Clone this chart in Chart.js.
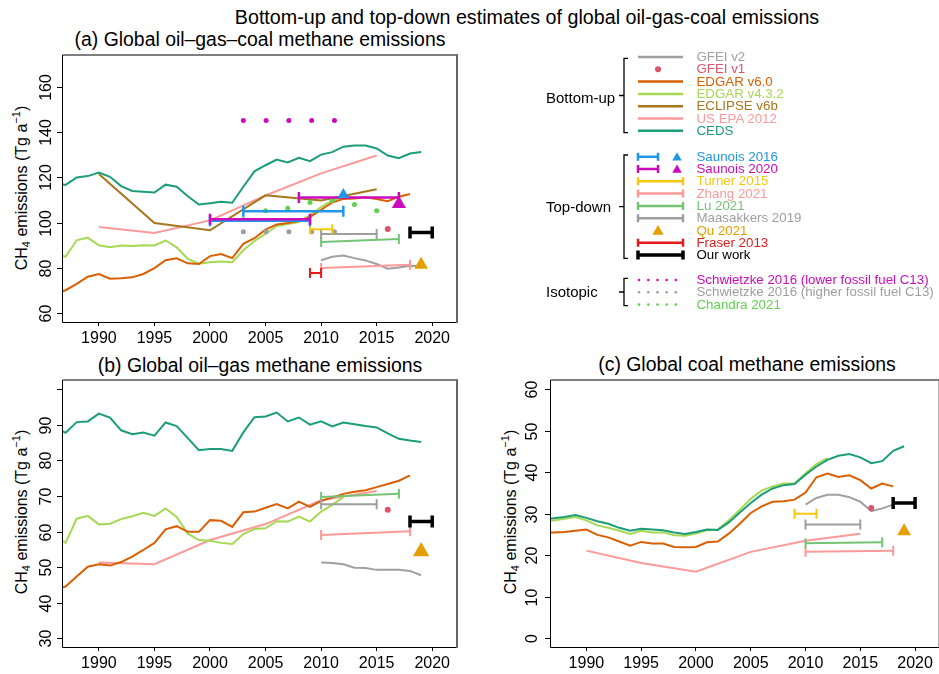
<!DOCTYPE html>
<html>
<head>
<meta charset="utf-8">
<script src="https://cdn.jsdelivr.net/npm/chart.js@4.4.0/dist/chart.umd.min.js"></script>
<style>
html, body { margin: 0; padding: 0; background: #fff; }
#fig { position: relative; width: 939px; height: 674px; overflow: hidden; background: #fff;
       font-family: "Liberation Sans", Arial, sans-serif; color: #000; }
.t { position: absolute; white-space: nowrap; transform: translate(-50%, -50%); line-height: 1; }
.main { font-size: 19.7px; }
.ptitle { font-size: 19.4px; }
.ylab { position: absolute; white-space: nowrap; font-size: 16px; line-height: 1;
        transform: translate(-50%, -50%) rotate(-90deg); }
.ylab sub { font-size: 11px; vertical-align: -3px; line-height: 0; }
.ylab sup { font-size: 11px; vertical-align: 7px; line-height: 0; }
canvas { position: absolute; }
.lg { position: absolute; white-space: nowrap; font-size: 13.3px; line-height: 1; transform: translateY(-50%); }
.grp { position: absolute; white-space: nowrap; font-size: 15px; line-height: 1; transform: translateY(-50%); }
</style>
</head>
<body>
<div id="fig">
  <div class="t main" style="left:527px; top:18px;">Bottom-up and top-down estimates of global oil-gas-coal emissions</div>
  <div class="t ptitle" style="left:260px; top:40px;">(a) Global oil–gas–coal methane emissions</div>
  <div class="t ptitle" style="left:260px; top:366px;">(b) Global oil–gas methane emissions</div>
  <div class="t ptitle" style="left:747px; top:365px;">(c) Global coal methane emissions</div>
  <div class="ylab" style="left:22px; top:188px;">CH<sub>4</sub> emissions (Tg a<sup>−1</sup>)</div>
  <div class="ylab" style="left:22px; top:512px;">CH<sub>4</sub> emissions (Tg a<sup>−1</sup>)</div>
  <div class="ylab" style="left:511px; top:512px;">CH<sub>4</sub> emissions (Tg a<sup>−1</sup>)</div>
  <canvas id="ca" width="470" height="305" style="left:0; top:45px; width:470px; height:305px;"></canvas>
  <canvas id="cb" width="470" height="305" style="left:0; top:370px; width:470px; height:305px;"></canvas>
  <canvas id="cc" width="480" height="305" style="left:470px; top:370px; width:480px; height:305px;"></canvas>
  <canvas id="legend" width="419" height="290" style="left:520px; top:40px; width:419px; height:290px;"></canvas>
</div>
<script>
// ---- x positions ----
const annualYears = [1986, 1987, 1988, 1989, 1990, 1991, 1992, 1993, 1994, 1995, 1996, 1997,
  1998, 1999, 2000, 2001, 2002, 2003, 2004, 2005, 2006, 2007, 2008, 2009, 2010, 2011, 2012,
  2013, 2014, 2015, 2016, 2017, 2018, 2019];
const fiveYears = [1990, 1995, 2000, 2005, 2010, 2015];
const gfeiYears = [2010, 2011, 2012, 2013, 2014, 2015, 2016, 2017, 2018, 2019];
const schwietzkeYears = [2003, 2005.05, 2007.1, 2009.15, 2011.2];
const chandraYears = [2003, 2005, 2007, 2009, 2011, 2013, 2015];
const xTicks = [1990, 1995, 2000, 2005, 2010, 2015, 2020];
const xLimits = [1986.68, 2022.32];

// ---- (a) oil-gas-coal ----
const aTicks = [60, 80, 100, 120, 140, 160];
const aLimits = [55.6, 174.4];
const aCeds = [117.6, 116.7, 120.0, 120.6, 122.2, 120.3, 116.2, 114.0, 113.7, 113.3, 116.8, 115.9,
  111.7, 108.0, 108.6, 109.2, 108.8, 115.9, 122.7, 125.4, 127.9, 126.6, 128.7, 127.2, 130.1, 131.2,
  133.6, 134.1, 134.1, 132.8, 129.7, 128.5, 130.6, 131.3];
const aEdgar432 = [86.5, 84.9, 92.2, 93.4, 90.0, 89.1, 89.9, 89.7, 90.0, 89.9, 92.1, 89.1, 84.0,
  81.8, 82.5, 82.8, 82.5, 87.8, 91.9, 95.0, 98.5, 99.4, 100.3, 103.2, 106.9, 109.8, 111.2];
const aEdgar6 = [68.2, 70.1, 72.9, 76.1, 77.3, 75.2, 75.4, 75.8, 77.3, 79.9, 83.4, 84.2, 82.0, 81.7,
  85.2, 86.1, 84.3, 90.6, 93.1, 96.9, 99.2, 99.8, 100.7, 102.5, 105.7, 108.9, 110.5, 110.7, 111.2,
  110.5, 109.5, 111.5, 112.7];
const aEclipse = [121.5, 99.8, 96.6, 112.1, 109.8, 114.8];
const aEpa = [98.1, 95.4, 101.0, 112.0, 121.8, 129.7];
const aGfei2 = [83.4, 84.9, 85.5, 84.3, 83.3, 81.7, 79.6, 80.2, 80.9, 80.8];
const aGfei1 = [2016, 97.2];
const aSchwLow = [145.2, 145.2, 145.2, 145.2, 145.2];
const aSchwHigh = [96.0, 96.0, 96.0, 96.0, 96.0];
const aChandra = [101.4, 105.3, 106.4, 108.9, 109.8, 108.0, 105.3];
// bars: [start year, end year, start value, end value]
const aSaunois2016 = [[2000, 2009, 100.8, 100.8], [2003, 2012, 105.1, 105.1]];
const aSaunois2020 = [[2000, 2009, 101.5, 101.5], [2008, 2017, 111.1, 111.1]];
const aSaunois2016Tri = [2012, 112.4];
const aSaunois2020Tri = [2017, 108.3];
const aTurner = [2009, 2011, 97.1, 97.1];
const aMaasakkers = [2010, 2015, 95.0, 95.0];
const aLu = [2010, 2017, 91.4, 92.8];
const aZhang = [2010, 2018, 79.9, 81.4];
const aFraser = [2009, 2010, 77.7, 77.7];
const aOurWork = [2018, 2020, 95.6, 95.6];
const aQu = [2019, 81.4];

// ---- (b) oil-gas ----
const bTicks = [30, 40, 50, 60, 70, 80, 90, 100];
const bLimits = [27.2, 102.8];
const bCeds = [89.5, 87.8, 90.8, 91.0, 93.2, 92.1, 88.5, 87.4, 87.9, 87.0, 90.7, 89.7, 86.3, 82.9,
  83.2, 83.2, 82.7, 87.9, 92.2, 92.4, 93.5, 91.0, 92.1, 90.1, 91.0, 89.6, 90.7, 90.2, 89.7, 89.3,
  87.6, 86.1, 85.6, 85.2];
const bEdgar432 = [58.5, 56.8, 63.6, 64.4, 62.0, 62.2, 63.5, 64.3, 65.3, 64.4, 66.5, 64.1, 59.4,
  57.6, 57.4, 56.8, 56.5, 59.3, 60.7, 60.9, 62.9, 62.8, 64.2, 62.8, 65.6, 67.5, 69.7];
const bEdgar6 = [43.6, 44.5, 47.3, 50.1, 50.8, 50.4, 51.4, 52.9, 54.8, 56.8, 60.6, 61.5, 59.9, 59.9,
  63.2, 63.0, 61.3, 65.4, 65.6, 66.7, 67.7, 66.5, 68.4, 66.9, 68.6, 69.6, 70.6, 71.2, 71.6, 72.5,
  73.4, 74.3, 75.8];
const bEpa = [51.3, 50.8, 57.6, 62.1, 68.8, 71.4];
const bGfei2 = [51.3, 51.1, 50.8, 49.8, 49.7, 49.2, 49.2, 49.2, 48.9, 47.7];
const bGfei1 = [2016, 66.1];
const bLu = [2010, 2017, 69.7, 70.6];
const bMaasakkers = [2010, 2015, 67.7, 67.7];
const bZhang = [2010, 2018, 59.0, 60.1];
const bOurWork = [2018, 2020, 62.8, 62.8];
const bQu = [2019, 54.4];

// ---- (c) coal ----
const cTicks = [0, 10, 20, 30, 40, 50, 60];
const cLimits = [-2.4, 62.4];
const cCeds = [28.7, 28.9, 29.2, 29.7, 29.0, 28.2, 27.6, 26.6, 25.9, 26.4, 26.2, 26.0, 25.5, 25.1,
  25.6, 26.2, 26.1, 27.9, 30.3, 32.6, 34.6, 36.1, 36.9, 37.2, 39.4, 41.4, 43.0, 44.0, 44.4, 43.6,
  42.2, 42.7, 45.2, 46.3];
const cEdgar432 = [28.3, 28.4, 28.8, 29.2, 28.4, 27.2, 26.6, 25.9, 25.1, 25.9, 25.5, 25.5, 24.8,
  24.7, 25.2, 26.0, 26.2, 28.4, 31.0, 33.6, 35.6, 36.6, 37.3, 37.3, 39.8, 42.0, 43.4];
const cEdgar6 = [25.4, 25.5, 25.6, 25.9, 26.2, 24.9, 24.3, 23.3, 22.3, 23.2, 22.8, 22.8, 22.0, 21.9,
  22.0, 23.1, 23.3, 25.2, 27.6, 30.2, 31.8, 32.9, 33.0, 33.4, 35.1, 38.8, 39.7, 38.9, 39.3, 38.1,
  36.1, 37.3, 36.6];
const cEpa = [21.1, 18.1, 16.0, 20.8, 23.5, 25.2];
const cGfei2 = [32.2, 33.8, 34.6, 34.6, 34.0, 32.9, 30.6, 31.3, 32.2];
const cGfei1 = [2016, 31.4];
const cTurner = [2009, 2011, 30.0, 30.0];
const cMaasakkers = [2010, 2015, 27.4, 27.4];
const cLu = [2010, 2017, 22.9, 23.1];
const cZhang = [2010, 2018, 20.8, 21.1];
const cOurWork = [2018, 2020, 32.6, 32.6];
const cQu = [2019, 25.8];

// ---- legend ----
const bottomUpLabels = ['GFEI v2', 'GFEI v1', 'EDGAR v6.0', 'EDGAR v4.3.2', 'ECLIPSE v6b', 'US EPA 2012', 'CEDS'];
const topDownLabels = ['Saunois 2016', 'Saunois 2020', 'Turner 2015', 'Zhang 2021', 'Lu 2021',
  'Maasakkers 2019', 'Qu 2021', 'Fraser 2013', 'Our work'];
const isotopicLabels = ['Schwietzke 2016 (lower fossil fuel C13)', 'Schwietzke 2016 (higher fossil fuel C13)', 'Chandra 2021'];

const col = {
  ceds: '#1B9E77', epa: '#FB9A99', eclipse: '#A6761D', edgar432: '#A6D854', edgar6: '#D95F02',
  gfei2: '#A0A0A0', gfei1: '#DF536B', saunois16: '#2297E6', saunois20: '#CD0BBC', turner: '#F5C710',
  zhang: '#FB9A99', lu: '#74C476', maas: '#9E9E9E', qu: '#E69F00', fraser: '#E41A1C', ours: '#000000',
  schwLow: '#CD0BBC', schwHigh: '#9E9E9E', chandra: '#61D04F'
};
const bottomUpStyle = [['line', col.gfei2], ['dot', col.gfei1], ['line', col.edgar6], ['line', col.edgar432],
  ['line', col.eclipse], ['line', col.epa], ['line', col.ceds]];
const topDownStyle = [['short', col.saunois16], ['short', col.saunois20], ['bar', col.turner], ['bar', col.zhang],
  ['bar', col.lu], ['bar', col.maas], ['tri', col.qu], ['bar', col.fraser], ['thick', col.ours]];
const isotopicStyle = [col.schwLow, col.schwHigh, col.chandra];

Chart.defaults.font.family = '"Liberation Sans", Arial, sans-serif';
Chart.defaults.color = '#000';

function pts(xs, ys) { return ys.map((y, i) => ({ x: xs[i], y: y })); }

function line(xs, ys, color) {
  return { data: pts(xs, ys), borderColor: color, borderWidth: 2, pointRadius: 0, tension: 0, fill: false };
}
function bar(b, color, width, cap) {
  return {
    data: [{ x: b[0], y: b[2] }, { x: b[1], y: b[3] }],
    borderColor: color, borderWidth: width || 2, tension: 0, fill: false,
    pointStyle: 'line', pointRotation: 90, pointRadius: cap || 5,
    pointBorderColor: color, pointBackgroundColor: color, pointBorderWidth: width || 2
  };
}
function dots(xs, ys, color, r) {
  return {
    data: pts(xs, ys), showLine: false, pointStyle: 'circle', pointRadius: r,
    pointBackgroundColor: color, pointBorderColor: color, pointBorderWidth: 0
  };
}
function tri(p, color, r) {
  return {
    data: [{ x: p[0], y: p[1] }], showLine: false, pointStyle: 'triangle', pointRadius: r,
    pointBackgroundColor: color, pointBorderColor: color, pointBorderWidth: 0
  };
}

// draws box, y tick marks and vertical y tick labels
const framePlugin = {
  id: 'frame',
  afterDraw(chart, args, opts) {
    const ctx = chart.ctx, a = chart.chartArea, y = chart.scales.y;
    ctx.save();
    ctx.strokeStyle = '#000';
    ctx.lineWidth = 1;
    ctx.beginPath();
    ctx.moveTo(a.right, a.top + 0.5);
    ctx.lineTo(a.left + 0.5, a.top + 0.5);
    ctx.lineTo(a.left + 0.5, a.bottom - 0.5);
    ctx.lineTo(a.right, a.bottom - 0.5);
    ctx.stroke();
    ctx.strokeStyle = '#666';
    ctx.lineWidth = 2;
    ctx.beginPath();
    ctx.moveTo(a.right - 1, a.top);
    ctx.lineTo(a.right - 1, a.bottom);
    ctx.stroke();
    ctx.strokeStyle = '#000';
    ctx.lineWidth = 1;
    ctx.font = '16px "Liberation Sans", Arial, sans-serif';
    ctx.fillStyle = '#000';
    ctx.textAlign = 'center';
    ctx.textBaseline = 'middle';
    opts.ticks.forEach(v => {
      const py = Math.round(y.getPixelForValue(v)) + 0.5;
      ctx.beginPath();
      ctx.moveTo(a.left - 5, py);
      ctx.lineTo(a.left, py);
      ctx.stroke();
      if (opts.hide && opts.hide.includes(v)) return;
      ctx.save();
      ctx.translate(opts.labelX, py);
      ctx.rotate(-Math.PI / 2);
      ctx.fillText(String(v), 0, 0);
      ctx.restore();
    });
    ctx.restore();
  }
};

function makeChart(id, datasets, yLimits, yTicks, pad, frameOpts) {
  datasets.forEach((d, i) => { d.order = -i; });
  return new Chart(document.getElementById(id), {
    type: 'line',
    data: { datasets: datasets },
    options: {
      responsive: false, animation: false, events: [],
      layout: { padding: pad },
      plugins: { legend: { display: false }, tooltip: { enabled: false }, frame: frameOpts },
      scales: {
        x: {
          type: 'linear', min: xLimits[0], max: xLimits[1],
          afterBuildTicks: s => { s.ticks = xTicks.map(v => ({ value: v })); },
          afterFit: s => { s.height = 27; },
          grid: { display: true, drawOnChartArea: false, drawTicks: true, tickLength: 3, color: '#000' },
          border: { display: false },
          ticks: { font: { size: 16 }, color: '#000', padding: 3, maxRotation: 0, autoSkip: false,
                   callback: v => String(v) }
        },
        y: {
          type: 'linear', display: false, min: yLimits[0], max: yLimits[1],
          afterBuildTicks: s => { s.ticks = yTicks.map(v => ({ value: v })); }
        }
      }
    },
    plugins: [framePlugin]
  });
}

const yrs = n => annualYears.slice(0, n);

makeChart('ca', [
  line(fiveYears, aEpa, col.epa),
  line(fiveYears, aEclipse, col.eclipse),
  line(yrs(aEdgar432.length), aEdgar432, col.edgar432),
  line(yrs(aEdgar6.length), aEdgar6, col.edgar6),
  line(annualYears, aCeds, col.ceds),
  line(gfeiYears, aGfei2, col.gfei2),
  dots(schwietzkeYears, aSchwLow, col.schwLow, 2.5),
  dots(schwietzkeYears, aSchwHigh, col.schwHigh, 2.5),
  dots(chandraYears, aChandra, col.chandra, 2.5),
  dots([aGfei1[0]], [aGfei1[1]], col.gfei1, 3),
  bar(aZhang, col.zhang),
  bar(aLu, col.lu),
  bar(aMaasakkers, col.maas),
  bar(aTurner, col.turner),
  bar(aFraser, col.fraser),
  ...aSaunois2016.map(b => bar(b, col.saunois16, 2.5, 5.5)),
  ...aSaunois2020.map(b => bar(b, col.saunois20, 2.5, 5.5)),
  tri(aSaunois2016Tri, col.saunois16, 6.7),
  tri(aSaunois2020Tri, col.saunois20, 8.2),
  tri(aQu, col.qu, 8),
  bar(aOurWork, col.ours, 3.5, 6)
], aLimits, aTicks, { left: 62, right: 12, top: 8, bottom: 0 }, { ticks: aTicks, labelX: 46.5 });

makeChart('cb', [
  line(fiveYears, bEpa, col.epa),
  line(yrs(bEdgar432.length), bEdgar432, col.edgar432),
  line(yrs(bEdgar6.length), bEdgar6, col.edgar6),
  line(annualYears, bCeds, col.ceds),
  line(gfeiYears, bGfei2, col.gfei2),
  dots([bGfei1[0]], [bGfei1[1]], col.gfei1, 3),
  bar(bZhang, col.zhang),
  bar(bLu, col.lu),
  bar(bMaasakkers, col.maas),
  tri(bQu, col.qu, 9.5),
  bar(bOurWork, col.ours, 3.5, 6)
], bLimits, bTicks, { left: 62, right: 12, top: 7, bottom: 0 }, { ticks: bTicks, hide: [100], labelX: 46.5 });

makeChart('cc', [
  line(fiveYears, cEpa, col.epa),
  line(yrs(cEdgar6.length), cEdgar6, col.edgar6),
  line(yrs(cEdgar432.length), cEdgar432, col.edgar432),
  line(annualYears, cCeds, col.ceds),
  line(gfeiYears.slice(0, cGfei2.length), cGfei2, col.gfei2),
  dots([cGfei1[0]], [cGfei1[1]], col.gfei1, 3),
  bar(cZhang, col.zhang),
  bar(cLu, col.lu),
  bar(cMaasakkers, col.maas),
  bar(cTurner, col.turner),
  tri(cQu, col.qu, 8),
  bar(cOurWork, col.ours, 3.5, 6)
], cLimits, cTicks, { left: 80, right: 4, top: 7, bottom: 0 }, { ticks: cTicks, labelX: 63 });

// ---- legend drawing ----
(function drawLegend() {
  const fig = document.getElementById('fig');
  const ctx = document.getElementById('legend').getContext('2d');
  ctx.translate(-520, -40);
  const lx0 = 638, lx1 = 683, textX = 696.5, step = 12.3;

  function bracket(x, y0, y1) {
    ctx.strokeStyle = '#000'; ctx.lineWidth = 1.3;
    ctx.beginPath();
    ctx.moveTo(x + 4, y0); ctx.lineTo(x, y0); ctx.lineTo(x, y1); ctx.lineTo(x + 4, y1);
    const m = (y0 + y1) / 2;
    ctx.moveTo(x, m); ctx.lineTo(x - 5, m);
    ctx.stroke();
  }
  function seg(x0, x1, y, c, w, cap) {
    ctx.strokeStyle = c; ctx.lineWidth = w;
    ctx.beginPath(); ctx.moveTo(x0, y); ctx.lineTo(x1, y);
    if (cap) { ctx.moveTo(x0, y - cap); ctx.lineTo(x0, y + cap); ctx.moveTo(x1, y - cap); ctx.lineTo(x1, y + cap); }
    ctx.stroke();
  }
  function dot(x, y, c, r) { ctx.fillStyle = c; ctx.beginPath(); ctx.arc(x, y, r, 0, Math.PI * 2); ctx.fill(); }
  function triangle(x, y, c, r) {
    ctx.fillStyle = c; ctx.beginPath();
    ctx.moveTo(x, y - r); ctx.lineTo(x + r * 0.866, y + r / 2); ctx.lineTo(x - r * 0.866, y + r / 2);
    ctx.closePath(); ctx.fill();
  }
  function label(text, y, c, cls, x) {
    const d = document.createElement('div');
    d.className = cls; d.textContent = text;
    d.style.left = x + 'px'; d.style.top = y + 'px'; d.style.color = c;
    fig.appendChild(d);
  }

  const buY = 57, tdY = 156.7, isoY = 280;
  bottomUpLabels.forEach((t, i) => {
    const y = buY + i * step, [k, c] = bottomUpStyle[i];
    if (k === 'dot') dot(658, y, c, 3); else seg(lx0, lx1, y, c, 2.5);
    label(t, y, c, 'lg', textX);
  });
  topDownLabels.forEach((t, i) => {
    const y = tdY + i * step, [k, c] = topDownStyle[i];
    if (k === 'short') { seg(lx0, 658, y, c, 2.5, 4); triangle(677, y + 1, c, 5.5); }
    else if (k === 'bar') seg(lx0, lx1, y, c, 2.5, 4);
    else if (k === 'thick') seg(lx0, lx1, y, c, 3.5, 4.5);
    else if (k === 'tri') triangle(658, y + 1, c, 6.5);
    label(t, y, c, 'lg', textX);
  });
  isotopicLabels.forEach((t, i) => {
    const y = isoY + i * step, c = isotopicStyle[i];
    [639, 648.3, 657.5, 666.7, 675.8].forEach(x => dot(x, y, c, 1.3));
    label(t, y, c, 'lg', textX);
  });
  bracket(624, 58.3, 132.7);
  bracket(624, 155, 258.3);
  bracket(624, 278.3, 305.7);
  label('Bottom-up', 96.5, '#000', 'grp', 546);
  label('Top-down', 206, '#000', 'grp', 546);
  label('Isotopic', 291, '#000', 'grp', 546);
})();
</script>
</body>
</html>
